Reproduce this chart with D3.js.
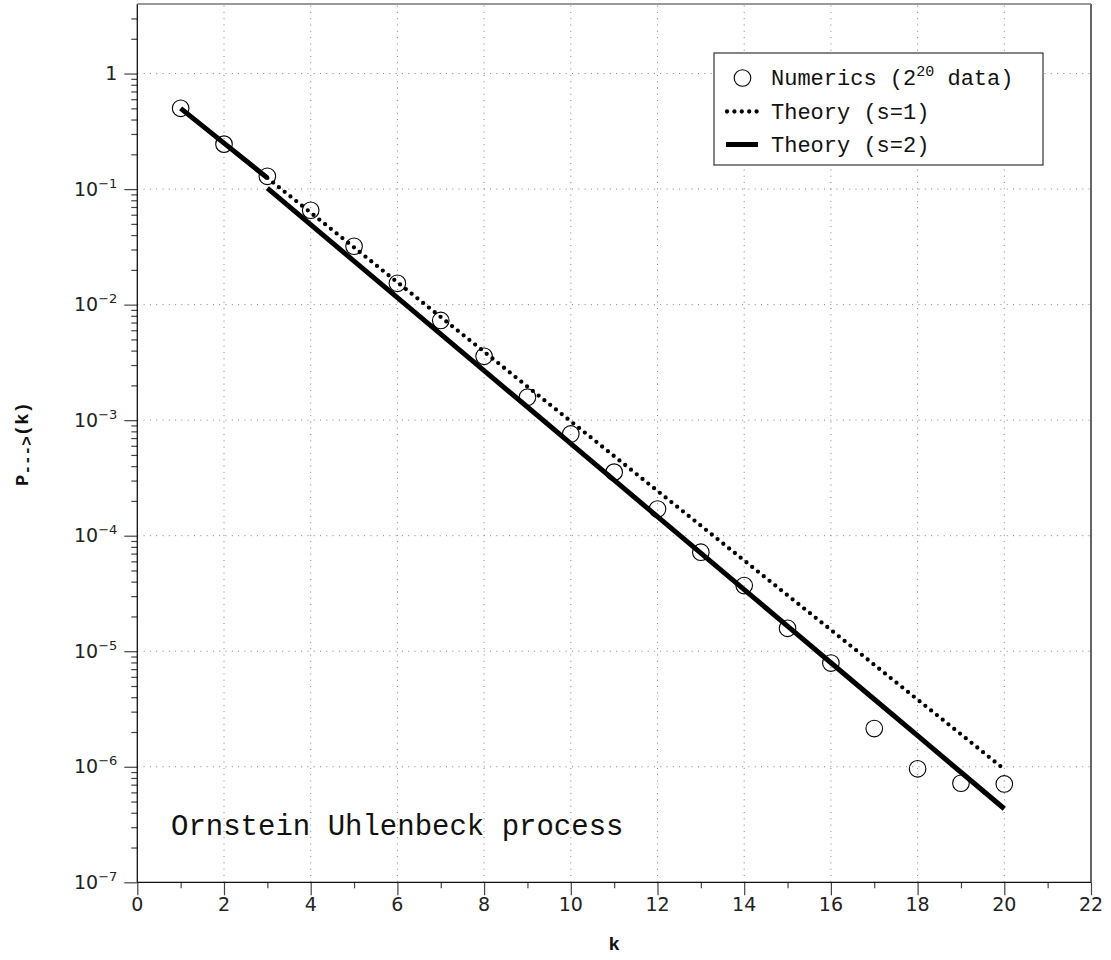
<!DOCTYPE html>
<html>
<head>
<meta charset="utf-8">
<script src="https://cdn.jsdelivr.net/npm/d3@7"></script>
<style>
  body { margin: 0; background: #fff; }
  svg { display: block; }
</style>
</head>
<body>
<svg id="chart" width="1111" height="960"></svg>
<script>
// data
const kValues = [1, 2, 3, 4, 5, 6, 7, 8, 9, 10, 11, 12, 13, 14, 15, 16, 17, 18, 19, 20];
const numerics = [0.5, 0.245, 0.129, 0.0656, 0.032, 0.0153, 0.0073, 0.00357, 0.00158, 0.00076,
                  3.55e-4, 1.7e-4, 7.2e-5, 3.7e-5, 1.58e-5, 7.9e-6, 2.14e-6, 9.6e-7, 7.2e-7, 7.1e-7];

const theoryS1K = [3, 4, 5, 6, 7, 8, 9, 10, 11, 12, 13, 14, 15, 16, 17, 18, 19, 20];
const theoryS1 = [0.125, 0.0625, 0.03125, 0.0156, 0.00781, 0.00391, 0.00195, 9.77e-4, 4.88e-4,
                  2.44e-4, 1.22e-4, 6.1e-5, 3.05e-5, 1.53e-5, 7.63e-6, 3.81e-6, 1.91e-6, 9.5e-7];

// s=2 curve is drawn in two pieces: head (k=1..3) and tail (k=3..20)
const theoryS2HeadK = [1, 2, 3];
const theoryS2Head = [0.5, 0.25, 0.125];
const theoryS2TailK = [3, 4, 5, 6, 7, 8, 9, 10, 11, 12, 13, 14, 15, 16, 17, 18, 19, 20];
const theoryS2Tail = [0.102, 0.0493, 0.0238, 0.0115, 0.00556, 0.00268, 0.0013, 6.27e-4, 3.03e-4,
                      1.46e-4, 7.06e-5, 3.41e-5, 1.65e-5, 7.95e-6, 3.84e-6, 1.86e-6, 8.96e-7, 4.33e-7];

const xMajorTicks = [0, 2, 4, 6, 8, 10, 12, 14, 16, 18, 20, 22];
const xMinorTicks = [1, 3, 5, 7, 9, 11, 13, 15, 17, 19, 21];
const xGridValues = [2, 4, 6, 8, 10, 12, 14, 16, 18, 20];
const yExponents = [-7, -6, -5, -4, -3, -2, -1, 0];

const legendItems = ['Numerics', 'Theory (s=1)', 'Theory (s=2)'];

const plotLeft = 137.3, plotRight = 1091, plotTop = 4, plotBottom = 882.3;

const svg = d3.select('#chart');

const x = d3.scaleLinear().domain([0, 22]).range([plotLeft, plotRight]);
const y = d3.scaleLog().domain([1e-7, 4]).range([plotBottom, plotTop]);

const yMajor = yExponents.map(e => Math.pow(10, e));
const yMinor = y.ticks().filter(v => !yMajor.some(m => Math.abs(v / m - 1) < 1e-6) && v < 3.9);

// grid
const grid = svg.append('g')
                  .attr('stroke', '#808080')
                  .attr('stroke-width', 1)
                  .attr('stroke-dasharray', '1 5.3');

grid.selectAll('.vgrid')
    .data(xGridValues)
    .join('line')
      .classed('vgrid', true)
      .attr('x1', d => x(d)).attr('x2', d => x(d))
      .attr('y1', plotBottom).attr('y2', plotTop);

grid.selectAll('.hgrid')
    .data(yMajor.filter(v => v > 1e-7))
    .join('line')
      .classed('hgrid', true)
      .attr('x1', plotLeft).attr('x2', plotRight)
      .attr('y1', d => y(d)).attr('y2', d => y(d));

// axes
const tickFont = '"DejaVu Sans", sans-serif';

const xMajorAxis = svg.append('g')
    .attr('transform', 'translate(0,' + plotBottom + ')')
    .call(d3.axisBottom(x).tickValues(xMajorTicks).tickSize(13).tickSizeOuter(0).tickFormat(''));
const xMinorAxis = svg.append('g')
    .attr('transform', 'translate(0,' + plotBottom + ')')
    .call(d3.axisBottom(x).tickValues(xMinorTicks).tickSize(6).tickSizeOuter(0).tickFormat(''));
const yMajorAxis = svg.append('g')
    .attr('transform', 'translate(' + plotLeft + ',0)')
    .call(d3.axisLeft(y).tickValues(yMajor).tickSize(13).tickSizeOuter(0).tickFormat(''));
const yMinorAxis = svg.append('g')
    .attr('transform', 'translate(' + plotLeft + ',0)')
    .call(d3.axisLeft(y).tickValues(yMinor).tickSize(6).tickSizeOuter(0).tickFormat(''));

[xMajorAxis, xMinorAxis, yMajorAxis, yMinorAxis].forEach(g => {
  g.select('.domain').remove();
  g.selectAll('.tick line').attr('stroke', '#444').attr('stroke-width', 1.2);
});

svg.append('g')
    .selectAll('text')
    .data(xMajorTicks)
    .join('text')
      .attr('x', d => x(d))
      .attr('y', plotBottom + 29)
      .attr('text-anchor', 'middle')
      .attr('font-family', tickFont)
      .attr('font-size', 19)
      .attr('fill', '#222')
      .text(d => d);

const yLabels = svg.append('g')
    .selectAll('text')
    .data(yExponents)
    .join('text')
      .attr('x', plotLeft - 20)
      .attr('y', d => y(Math.pow(10, d)) + 6.5)
      .attr('text-anchor', 'end')
      .attr('font-family', tickFont)
      .attr('font-size', 19)
      .attr('fill', '#222');

yLabels.each(function(d) {
  const t = d3.select(this);
  if (d === 0) {
    t.text('1');
  } else {
    t.append('tspan').text('10');
    t.append('tspan').attr('font-size', 13).attr('dy', -8).text('\u2212' + (-d));
  }
});

// frame
const frame = svg.append('g').attr('fill', 'none');
frame.append('line').attr('x1', plotLeft).attr('x2', plotLeft).attr('y1', plotTop).attr('y2', plotBottom)
     .attr('stroke', '#111').attr('stroke-width', 1.3);
frame.append('line').attr('x1', plotLeft).attr('x2', plotRight).attr('y1', plotBottom).attr('y2', plotBottom)
     .attr('stroke', '#111').attr('stroke-width', 1.3);
frame.append('line').attr('x1', plotRight).attr('x2', plotRight).attr('y1', plotTop).attr('y2', plotBottom)
     .attr('stroke', '#111').attr('stroke-width', 1.3);
frame.append('line').attr('x1', plotLeft).attr('x2', plotRight).attr('y1', plotTop).attr('y2', plotTop)
     .attr('stroke', '#777').attr('stroke-width', 1.5);

// theory lines
const line = d3.line().x(d => x(d[0])).y(d => y(d[1]));

svg.append('path')
    .datum(theoryS1K.map((k, i) => [k, theoryS1[i]]))
    .attr('d', line)
    .attr('fill', 'none')
    .attr('stroke', '#000')
    .attr('stroke-width', 4.3)
    .attr('stroke-linecap', 'round')
    .attr('stroke-dasharray', '0 7.4');

svg.append('path')
    .datum(theoryS2HeadK.map((k, i) => [k, theoryS2Head[i]]))
    .attr('d', line)
    .attr('fill', 'none')
    .attr('stroke', '#000')
    .attr('stroke-width', 5);

svg.append('path')
    .datum(theoryS2TailK.map((k, i) => [k, theoryS2Tail[i]]))
    .attr('d', line)
    .attr('fill', 'none')
    .attr('stroke', '#000')
    .attr('stroke-width', 5);

// numerics
svg.append('g')
    .selectAll('circle')
    .data(kValues.map((k, i) => [k, numerics[i]]))
    .join('circle')
      .attr('cx', d => x(d[0]))
      .attr('cy', d => y(d[1]))
      .attr('r', 8.3)
      .attr('fill', 'none')
      .attr('stroke', '#000')
      .attr('stroke-width', 1.1);

// legend
const monoFont = '"Liberation Mono", "Courier New", monospace';
const legend = svg.append('g').attr('transform', 'translate(714,53)');
legend.append('rect')
    .attr('width', 329).attr('height', 112)
    .attr('fill', '#fff').attr('stroke', '#333').attr('stroke-width', 1.2);

const rowY = [25, 58.5, 91.5];
legend.append('circle')
    .attr('cx', 28.5).attr('cy', rowY[0]).attr('r', 8.3)
    .attr('fill', 'none').attr('stroke', '#000').attr('stroke-width', 1.1);
legend.append('line')
    .attr('x1', 13).attr('x2', 44).attr('y1', rowY[1]).attr('y2', rowY[1])
    .attr('stroke', '#000').attr('stroke-width', 4.3)
    .attr('stroke-linecap', 'round').attr('stroke-dasharray', '0 7.4');
legend.append('line')
    .attr('x1', 12).attr('x2', 44).attr('y1', rowY[2]).attr('y2', rowY[2])
    .attr('stroke', '#000').attr('stroke-width', 5);

const legendText = legend.selectAll('.ltext')
    .data(legendItems)
    .join('text')
      .classed('ltext', true)
      .attr('x', 57)
      .attr('y', (d, i) => rowY[i] + 7)
      .attr('font-family', monoFont)
      .attr('font-size', 22)
      .attr('fill', '#111');

legendText.each(function(d, i) {
  const t = d3.select(this);
  if (i === 0) {
    t.append('tspan').text(d + ' (2');
    t.append('tspan').attr('font-size', 15).attr('dy', -9).text('20');
    t.append('tspan').attr('dy', 9).text(' data)');
  } else {
    t.text(d);
  }
});

// annotation and axis titles
svg.append('text')
    .attr('x', 171)
    .attr('y', 835)
    .attr('font-family', monoFont)
    .attr('font-size', 29)
    .attr('fill', '#111')
    .text('Ornstein Uhlenbeck process');

svg.append('text')
    .attr('x', (plotLeft + plotRight) / 2)
    .attr('y', 950)
    .attr('text-anchor', 'middle')
    .attr('font-family', monoFont)
    .attr('font-weight', 'bold')
    .attr('font-size', 19)
    .attr('fill', '#111')
    .text('k');

const yTitle = svg.append('text')
    .attr('transform', 'translate(28,444) rotate(-90)')
    .attr('text-anchor', 'middle')
    .attr('font-family', monoFont)
    .attr('font-weight', 'bold')
    .attr('font-size', 19)
    .attr('fill', '#111');
yTitle.append('tspan').text('P');
yTitle.append('tspan').attr('font-size', 16).attr('dy', 4).text('--->');
yTitle.append('tspan').attr('dy', -4).text('(k)');
</script>
</body>
</html>
